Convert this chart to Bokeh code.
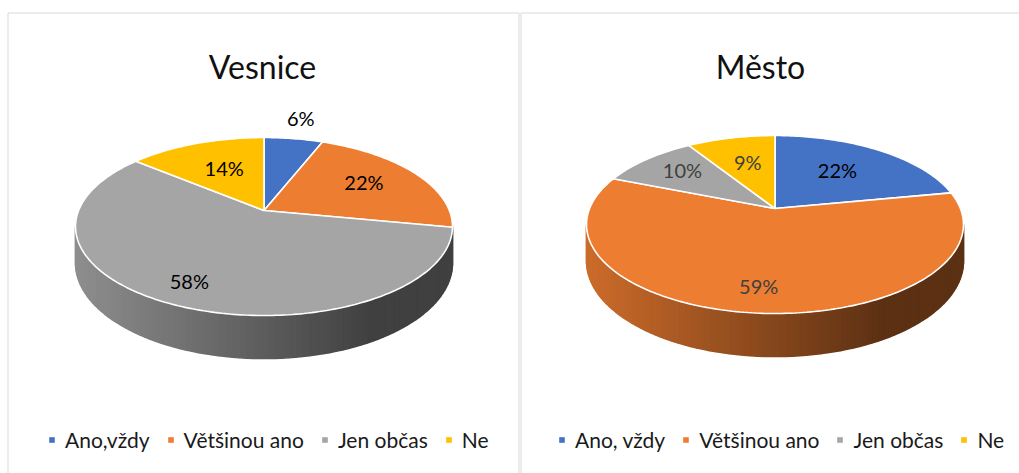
import numpy as np
from bokeh.plotting import figure
from bokeh.models import Range1d, ColumnDataSource, Legend, LegendItem
from bokeh.core.properties import value
from bokeh.embed import file_html
from bokeh.resources import INLINE

# ---------------- data ----------------
titles = ["Vesnice", "Město"]
categories_vesnice = ["Ano,vždy", "Většinou ano", "Jen občas", "Ne"]
values_vesnice = [6, 22, 58, 14]
categories_mesto = ["Ano, vždy", "Většinou ano", "Jen občas", "Ne"]
values_mesto = [22, 59, 10, 9]
slice_colors = ["#4472C4", "#ED7D31", "#A5A5A5", "#FFC000"]

# ---------------- style / layout ----------------
label_radius_vesnice = [1.3, 0.65, 0.82, 0.55]
label_radius_mesto = [0.57, 0.8, 0.7, 0.58]
label_color_vesnice = ["#000000", "#000000", "#000000", "#000000"]
label_color_mesto = ["#000000", "#404040", "#404040", "#404040"]

W, H = 1019, 473
RX, RY, PERSP, DEPTH = 185.4, 86.1, 0.18, 35.3
FONT = "Lato"

p = figure(width=W, height=H, x_range=Range1d(0, W), y_range=Range1d(H, 0),
           output_backend="svg", toolbar_location=None,
           x_axis_location=None, y_axis_location=None, min_border=0,
           outline_line_color=None, background_fill_color="white",
           border_fill_color="white")
p.xgrid.grid_line_color = None
p.ygrid.grid_line_color = None


def project(cx, cy, r, theta_deg, depth=0.0):
    th = np.radians(theta_deg)
    u = r * np.sin(th)
    s = -r * np.cos(th)
    k = 1.0 - PERSP * s
    return cx + RX * u / k, cy + (RY * s + depth) / k


def shade(hex_color, f):
    h = hex_color.lstrip("#")
    rgb = [int(h[i:i + 2], 16) for i in (0, 2, 4)]
    return "#%02x%02x%02x" % tuple(max(0, min(255, int(round(c * f)))) for c in rgb)


# panel borders
border = "#d9d9d9"
p.line(x=[7.5, 7.5, 518.5, 518.5], y=[480, 12.5, 12.5, 480], line_color=border, line_width=1)
p.line(x=[520.5, 520.5, 1025], y=[480, 12.5, 12.5], line_color=border, line_width=1)

pies = [
    (titles[0], categories_vesnice, values_vesnice, 263.5, 210.0, 262.0,
     label_radius_vesnice, label_color_vesnice, 48),
    (titles[1], categories_mesto, values_mesto, 774.5, 208.0, 760.0,
     label_radius_mesto, label_color_mesto, 558),
]

for (title, cats, vals, cx, cy, tx, lab_r, lab_c, leg_x) in pies:
    total = float(sum(vals))
    bounds = np.concatenate([[0.0], np.cumsum(vals) / total * 360.0])

    # side wall (front half, visible between silhouette tangents)
    a0 = 90.0 + np.degrees(np.arcsin(PERSP))
    a1 = 270.0 - np.degrees(np.arcsin(PERSP))
    steps = np.linspace(a0, a1, 90)
    xmin = cx - RX / np.sqrt(1 - PERSP ** 2)
    xmax = cx + RX / np.sqrt(1 - PERSP ** 2)
    sx, sy, sc = [], [], []
    for t0, t1 in zip(steps[:-1], steps[1:]):
        xt0, yt0 = project(cx, cy, 1.0, t0)
        xt1, yt1 = project(cx, cy, 1.0, t1)
        xb0, yb0 = project(cx, cy, 1.0, t0, DEPTH)
        xb1, yb1 = project(cx, cy, 1.0, t1, DEPTH)
        mid = 0.5 * (t0 + t1)
        idx = int(np.searchsorted(bounds, mid, side="right") - 1)
        idx = min(max(idx, 0), len(vals) - 1)
        xm = 0.5 * (xt0 + xt1)
        tt = min(1.0, max(0.0, (xm - xmin) / (xmax - xmin) / 0.78))
        f = 0.86 - 0.47 * tt
        sx.append([xt0, xt1, xb1, xb0])
        sy.append([yt0, yt1, yb1, yb0])
        sc.append(shade(slice_colors[idx], f))
    p.patches(xs=sx, ys=sy, fill_color=sc, line_color=sc, line_width=1.6)

    # top face slices
    xs, ys = [], []
    for i in range(len(vals)):
        th = np.linspace(bounds[i], bounds[i + 1], max(3, int((bounds[i + 1] - bounds[i]) / 1.0) + 2))
        px, py = project(cx, cy, 1.0, th)
        xs.append(np.concatenate([[cx], px]).tolist())
        ys.append(np.concatenate([[cy], py]).tolist())
    src = ColumnDataSource(dict(xs=xs, ys=ys, color=slice_colors[:len(vals)]))
    p.patches(xs="xs", ys="ys", fill_color="color", line_color="white", line_width=1.6, source=src)

    # data labels
    lx, ly, lt = [], [], []
    for i in range(len(vals)):
        mid = 0.5 * (bounds[i] + bounds[i + 1])
        x, y = project(cx, cy, lab_r[i], mid)
        lx.append(x)
        ly.append(y)
        lt.append("%d%%" % vals[i])
    p.text(x=lx, y=ly, text=lt, text_color=lab_c, text_align="center", text_baseline="middle",
           y_offset=-3, text_font=value(FONT), text_font_size="20px")

    # title
    p.text(x=[tx], y=[66], text=[title], text_align="center", text_baseline="alphabetic",
           text_font=value(FONT), text_font_size="32px", text_color="#111111")

    # legend
    leg_src = ColumnDataSource(dict(left=[np.nan] * len(cats), right=[np.nan] * len(cats),
                                    top=[np.nan] * len(cats), bottom=[np.nan] * len(cats),
                                    color=slice_colors[:len(cats)]))
    r_leg = p.quad(left="left", right="right", top="top", bottom="bottom", fill_color="color",
                   line_color=None, source=leg_src)
    items = [LegendItem(label=c, renderers=[r_leg], index=i) for i, c in enumerate(cats)]
    legend = Legend(items=items, orientation="horizontal", location=(leg_x, H - 452),
                    glyph_width=7, glyph_height=7, label_standoff=10, spacing=17,
                    padding=0, margin=0, border_line_color=None, background_fill_alpha=0,
                    label_text_font=FONT, label_text_font_size="21px", label_text_color="#1a1a1a",
                    label_height=20)
    p.add_layout(legend)

open("out.html", "w").write(file_html(p, INLINE))
